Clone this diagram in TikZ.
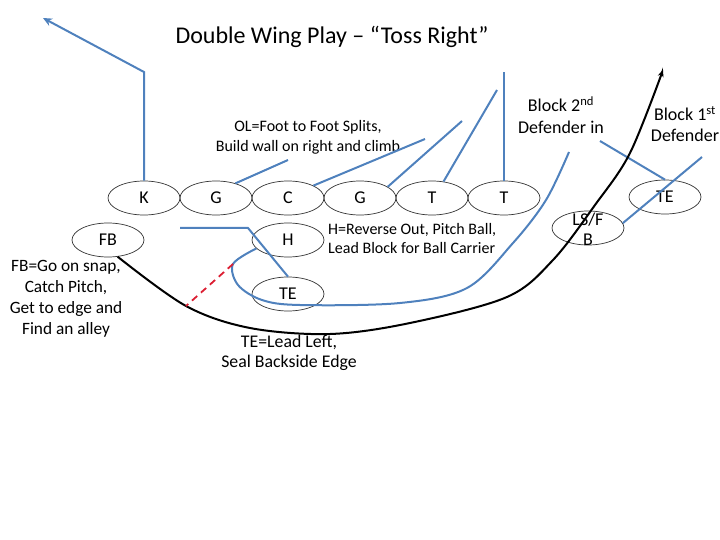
\documentclass[tikz,border=0pt]{standalone}
\usepackage{fontspec}
\setmainfont{Carlito}
\usetikzlibrary{shapes.geometric,arrows.meta}
\definecolor{route}{RGB}{79,129,189}
\definecolor{pitch}{RGB}{220,30,50}
\begin{document}
\begin{tikzpicture}[x=1pt,y=-1pt,
  player/.style={ellipse,draw=black!80,line width=0.7pt,minimum width=72pt,minimum height=34pt,inner sep=0pt,font=\fontsize{18}{18}\selectfont},
  blk/.style={route,line width=2pt},
  run/.style={black,line width=2pt},
  note/.style={align=center,font=\fontsize{16}{20}\selectfont,inner sep=0pt},
  bignote/.style={align=center,font=\fontsize{18}{21}\selectfont,inner sep=0pt}]
\useasboundingbox (0,0) rectangle (720,540);
\node[font=\fontsize{24}{28}\selectfont] (title) at (332,37) {Double Wing Play – “Toss Right”};
% line
\node[player] (k)  at (144,198) {K};
\node[player] (g1) at (216,198) {G};
\node[player] (c)  at (288,198) {C};
\node[player] (g2) at (360,198) {G};
\node[player] (t1) at (432,198) {T};
\node[player] (t2) at (504,198) {T};
\node[player] (te) at (665,197) {TE};
\node[player] (fb) at (108,240) {FB};
\node[player] (h)  at (288,240) {H};
\node[player] (te2) at (288,294) {TE};
\node[player] (lsfb) at (588,228) {};
\node[align=center,font=\fontsize{18}{20}\selectfont,inner sep=0pt] (lsfbt) at (588,229) {LS/F\\B};
% notes
\node[note] (olnote) at (308,137) {OL=Foot to Foot Splits,\\Build wall on right and climb};
\node[bignote,font=\fontsize{18}{22}\selectfont] (b2note) at (561,115) {Block 2\textsuperscript{nd}\\Defender in};
\node[bignote] (b1note) at (685,124) {Block 1\textsuperscript{st}\\Defender};
\node[note,align=left,anchor=west,font=\fontsize{16}{19}\selectfont] (hnote) at (328,239) {H=Reverse Out, Pitch Ball,\\Lead Block for Ball Carrier};
\node[bignote,font=\fontsize{17.3}{21}\selectfont] (fbnote) at (66,299) {FB=Go on snap,\\Catch Pitch,\\Get to edge and\\Find an alley};
\node[bignote,font=\fontsize{17.8}{20}\selectfont] (tenote) at (289,353) {TE=Lead Left,\\Seal Backside Edge};
% coordinates
\coordinate (kcorner) at (144,72);
\coordinate (kend) at (43,18);
\coordinate (g1end) at (288,160);
\coordinate (cend) at (425,139);
\coordinate (g2end) at (462,121);
\coordinate (t1end) at (497,90);
\coordinate (t2end) at (504,72);
\coordinate (teend) at (600,141);
\coordinate (lsend) at (702,157);
\coordinate (hstart) at (180,228);
\coordinate (hbend) at (248,228);
\coordinate (redtop) at (233,264);
\coordinate (redbot) at (186,306);
\coordinate (hend) at (569,152);
\coordinate (fbend) at (663,70);
% blocks
\draw[blk,-{Stealth[length=9pt,width=8pt]}] (k.north) -- (kcorner) -- (kend);
\draw[blk] (g1.37) -- (g1end);
\draw[blk] (c.26) -- (cend);
\draw[blk] (g2.22) -- (g2end);
\draw[blk] (t1.55) -- (t1end);
\draw[blk] (t2.north) -- (t2end);
\draw[blk] (te.north) -- (teend);
\draw[blk] (lsfb.8) -- (lsend);
\draw[blk] (hstart) -- (hbend) -- (te2.north);
\draw[blk] plot[smooth,tension=0.55] coordinates {(h.195) (redtop) (238,285) (262,300) (300,305) (400,303) (467,288) (513,243) (546,200) (hend)};
% ball carrier
\draw[run,-{Stealth[length=7pt,width=6pt]}] plot[smooth,tension=0.55] coordinates {(fb.-60) (redbot) (250,328) (330,334) (410,323) (507,297) (553,260) (595,205) (630,153) (fbend)};
% pitch
\draw[pitch,line width=1.8pt,dash pattern=on 7pt off 5pt] (redtop) -- (redbot);
\end{tikzpicture}
\end{document}
